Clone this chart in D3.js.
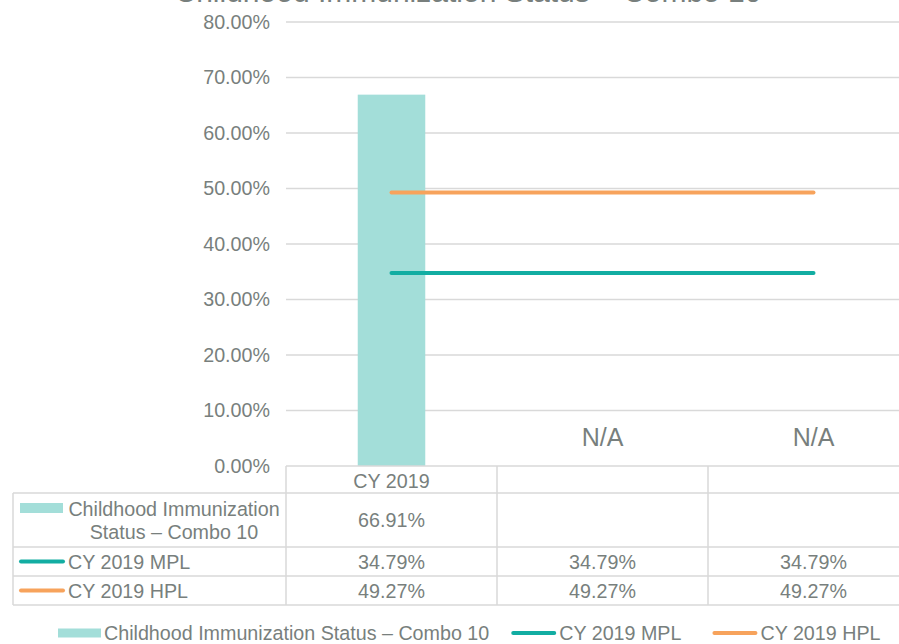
<!DOCTYPE html>
<html>
<head>
<meta charset="utf-8">
<script src="https://cdn.jsdelivr.net/npm/d3@7/dist/d3.min.js"></script>
<style>
  html, body { margin: 0; padding: 0; background: #fff; }
  svg { display: block; }
  text { font-family: "Liberation Sans", Arial, sans-serif; fill: #787f7d; }
</style>
</head>
<body>
<svg id="chart" width="899" height="644"></svg>
<script>
const title = "Childhood Immunization Status – Combo 10";
const categories = ["CY 2019", "", ""];
const barName = "Childhood Immunization Status – Combo 10";
const barValues = [0.6691, null, null];
const mplName = "CY 2019 MPL";
const mplValues = [0.3479, 0.3479, 0.3479];
const hplName = "CY 2019 HPL";
const hplValues = [0.4927, 0.4927, 0.4927];
const naLabels = [null, "N/A", "N/A"];
const yTicks = [0, 0.1, 0.2, 0.3, 0.4, 0.5, 0.6, 0.7, 0.8];

const colBar = "#a3ded9", colMpl = "#12ada2", colHpl = "#f7a35c", gridCol = "#d9d9d9";
const fs = 19.7;
const svg = d3.select("#chart");
const W = 899;

// title (mostly clipped above top edge, as in reference)
svg.append("text").attr("x", 468).attr("y", 2).attr("text-anchor", "middle")
  .style("font-size", "30px").text(title);

const x = d3.scaleBand().domain(d3.range(categories.length)).range([286, 919]);
const y = d3.scaleLinear().domain([0, 0.8]).range([466, 22]);
const fmt = d3.format(".2%");

// gridlines
svg.append("g").selectAll("line").data(yTicks.filter(t => t > 0)).join("line")
  .attr("x1", 286).attr("x2", W).attr("y1", d => y(d)).attr("y2", d => y(d))
  .attr("stroke", gridCol).attr("stroke-width", 1.3);

// y axis labels
const yAxis = d3.axisLeft(y).tickValues(yTicks).tickFormat(fmt).tickSize(0).tickPadding(16);
const yg = svg.append("g").attr("transform", "translate(286,0)").call(yAxis);
yg.select(".domain").remove();
yg.selectAll("text").style("font-size", fs + "px").attr("fill", null)
  .style("font-family", "'Liberation Sans', Arial, sans-serif");

// bars
const bw = x.bandwidth() * 0.32;
svg.append("g").selectAll("rect").data(barValues.map((v, i) => ({v, i})).filter(d => d.v != null)).join("rect")
  .attr("x", d => x(d.i) + x.bandwidth() / 2 - bw / 2).attr("width", bw)
  .attr("y", d => y(d.v)).attr("height", d => y(0) - y(d.v)).attr("fill", colBar);

// lines
const line = d3.line().x((d, i) => x(i) + x.bandwidth() / 2).y(d => y(d));
svg.append("path").datum(hplValues).attr("d", line).attr("fill", "none")
  .attr("stroke", colHpl).attr("stroke-width", 4).attr("stroke-linecap", "round");
svg.append("path").datum(mplValues).attr("d", line).attr("fill", "none")
  .attr("stroke", colMpl).attr("stroke-width", 4).attr("stroke-linecap", "round");

// N/A labels
svg.append("g").selectAll("text").data(naLabels.map((t, i) => ({t, i})).filter(d => d.t)).join("text")
  .attr("x", d => x(d.i) + x.bandwidth() / 2).attr("y", 446).attr("text-anchor", "middle")
  .style("font-size", "25px").text(d => d.t);

// data table
const rowY = [466, 493, 547, 576, 605];
const tbl = svg.append("g");
const hl = (y0, x0) => tbl.append("line").attr("x1", x0).attr("x2", W).attr("y1", y0).attr("y2", y0)
  .attr("stroke", gridCol).attr("stroke-width", 1.5);
hl(rowY[0], 286);
rowY.slice(1).forEach(r => hl(r, 13));
const vl = (x0, y0, y1) => tbl.append("line").attr("x1", x0).attr("x2", x0).attr("y1", y0).attr("y2", y1)
  .attr("stroke", gridCol).attr("stroke-width", 1.5);
vl(13, rowY[1], rowY[4]);
d3.range(categories.length).forEach(i => vl(x(i), rowY[0], rowY[4]));

const cx = i => x(i) + x.bandwidth() / 2;
const cellText = (t, xx, yy, anchor) => tbl.append("text").attr("x", xx).attr("y", yy)
  .attr("text-anchor", anchor || "middle").attr("dominant-baseline", "central")
  .style("font-size", fs + "px").text(t);

categories.forEach((c, i) => cellText(c, cx(i), (rowY[0] + rowY[1]) / 2 + 1));

// row 1: bar series
tbl.append("rect").attr("x", 20).attr("y", 503).attr("width", 43).attr("height", 10).attr("fill", colBar);
const nameParts = ["Childhood Immunization", "Status – Combo 10"];
cellText(nameParts[0], 174, 509);
cellText(nameParts[1], 174, 532);
barValues.forEach((v, i) => { if (v != null) cellText(fmt(v), cx(i), (rowY[1] + rowY[2]) / 2); });

// row 2: MPL
const keyLine = (yy, col) => tbl.append("line").attr("x1", 21).attr("x2", 63).attr("y1", yy).attr("y2", yy)
  .attr("stroke", col).attr("stroke-width", 4).attr("stroke-linecap", "round");
const r2 = (rowY[2] + rowY[3]) / 2, r3 = (rowY[3] + rowY[4]) / 2;
keyLine(r2, colMpl);
cellText(mplName, 68, r2, "start");
mplValues.forEach((v, i) => cellText(fmt(v), cx(i), r2));
keyLine(r3, colHpl);
cellText(hplName, 68, r3, "start");
hplValues.forEach((v, i) => cellText(fmt(v), cx(i), r3));

// bottom legend
const lg = svg.append("g");
const ly = 633;
let lx = 58;
lg.append("rect").attr("x", lx).attr("y", ly - 4.5).attr("width", 43).attr("height", 9).attr("fill", colBar);
lx += 46;
let t1 = lg.append("text").attr("x", lx).attr("y", ly).attr("dominant-baseline", "central")
  .style("font-size", fs + "px").text(barName);
lx += t1.node().getComputedTextLength() + 22;
lg.append("line").attr("x1", lx + 2).attr("x2", lx + 43).attr("y1", ly).attr("y2", ly)
  .attr("stroke", colMpl).attr("stroke-width", 4).attr("stroke-linecap", "round");
lx += 48;
let t2 = lg.append("text").attr("x", lx).attr("y", ly).attr("dominant-baseline", "central")
  .style("font-size", fs + "px").text(mplName);
lx += t2.node().getComputedTextLength() + 31;
lg.append("line").attr("x1", lx + 2).attr("x2", lx + 43).attr("y1", ly).attr("y2", ly)
  .attr("stroke", colHpl).attr("stroke-width", 4).attr("stroke-linecap", "round");
lx += 48;
lg.append("text").attr("x", lx).attr("y", ly).attr("dominant-baseline", "central")
  .style("font-size", fs + "px").text(hplName);
</script>
</body>
</html>
